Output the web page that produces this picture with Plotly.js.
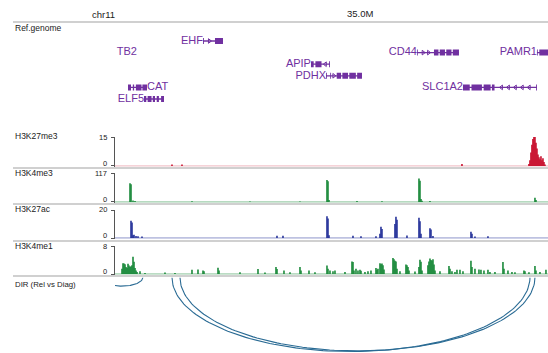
<!DOCTYPE html>
<html><head><meta charset="utf-8">
<script src="https://cdn.plot.ly/plotly-3.0.1.min.js"></script>
<style>html,body{margin:0;padding:0;background:#fff}#chart{width:548px;height:353px}</style>
</head><body><div id="chart"></div>
<script>
// ---------- DATA ----------
const chromName = "chr11";
const regionKb = [34436, 35432];
const tickKb = [35000];
const tickLabels = ["35.0M"];

const geneNames  = ["EHF","TB2","CD44","PAMR1","APIP","PDHX","CAT","SLC1A2","ELF5"];
const geneRow    = [0,1,1,1,2,3,4,4,5];
const geneStart  = [34638.4,34486.6,35130.6,35406.6,34886.8,34921.3,34465.9,35236.4,34502.7];
const geneEnd    = [34684.4,34486.6,35227.2,35440,34930.5,35004.1,34509.6,35406.6,34548.7];
const geneStrand = ["+","+","+","-","-","+","+","-","-"];
const geneExons  = [
  [[34638.4,34640.5],[34666,34684.4]],
  [],
  [[35130.6,35132.5],[35169.7,35180],[35183,35195],[35198,35210],[35213,35227.2]],
  [[35406.6,35408.5],[35412,35440]],
  [[34886.8,34893],[34897,34911],[34928.5,34930.5]],
  [[34921.3,34923.3],[34931,34933],[34946,34956],[34959,34972],[34975,34990],[34993,35004.1]],
  [[34465.9,34472.8],[34477,34480],[34484,34497],[34499,34509.6]],
  [[35236.4,35252],[35256,35280],[35284,35300],[35303,35309],[35404.6,35406.6]],
  [[34502.7,34508],[34511,34520],[34523,34528],[34532,34537],[34542,34548.7]]
];

const trackNames = ["H3K27me3","H3K4me3","H3K27ac","H3K4me1"];
const trackMax   = [15,117,20,8];

const k27me3Pos = [34567.1,34590.1,35234.1,35388.2,35390.5,35392.8,35395.1,35397.4,35399.7,35402,35404.3,35406.6,35408.9,35411.2,35413.5,35415.8,35418.1,35420.4,35422.7,35425];
const k27me3Val = [0.8,0.7,1.0,1,3,7,11,14,15,15,12,9,6,4.5,3.5,5,3,4,2,0.8];

const k4me3Pos = [34470.5,34472.8,34477.4,34482,34613.1,34746.5,34861.5,34923.6,34925.9,34928.2,34992.6,35050.1,35135.2,35137.5,35139.8,35142.1,35160.5,35402,35404.3];
const k4me3Val = [76,72,6,4,2.5,1.5,1.5,89,84,8,4,3,95,86,12,5,4,17,8];

const k27acPos = [34472.8,34475.1,34477.4,34479.7,34484.3,34488.9,34498.1,34808.6,34822.4,34923.6,34925.9,34928.2,34983.4,35001.8,35036.3,35045.5,35047.8,35050.1,35080,35082.3,35084.6,35107.6,35135.2,35137.5,35139.8,35160.5,35162.8,35167.4,35254.8,35257.1,35264,35293.9];
const k27acVal = [12.4,11,2,2.3,1.5,1.2,1,1.6,1.6,15.5,14,2,1.6,1.3,1.3,3,8,6.5,10,15.2,13,1.8,14.5,12,3,6.9,6,1.5,4.5,3,1,1.2];

const k4me1Pos = [34452.1,34454.4,34456.7,34459,34461.3,34463.6,34465.9,34468.2,34470.5,34472.8,34475.1,34477.4,34479.7,34482,34484.3,34486.6,34493.5,34505,34551,34574,34613.1,34626.9,34638.4,34640.7,34672.9,34675.2,34723.5,34764.9,34781,34806.3,34808.6,34824.7,34838.5,34861.5,34863.8,34882.2,34896,34923.6,34925.9,34930.5,34937.4,34942,34965,34981.1,34983.4,34985.7,34990.3,34994.9,34999.5,35001.8,35011,35017.9,35024.8,35036.3,35038.6,35040.9,35045.5,35047.8,35050.1,35052.4,35054.7,35075.4,35077.7,35080,35082.3,35084.6,35091.5,35105.3,35107.6,35109.9,35112.2,35126,35135.2,35137.5,35139.8,35142.1,35155.9,35158.2,35160.5,35162.8,35165.1,35167.4,35169.7,35172,35183.5,35204.2,35206.5,35211.1,35218,35222.6,35229.5,35236.4,35254.8,35257.1,35264,35273.2,35277.8,35284.7,35293.9,35298.5,35310,35328.4,35330.7,35339.9,35349.1,35356,35376.7,35379,35388.2,35402,35404.3,35413.5,35427.3];
const k4me1Val = [1.5,3.1,3.0,2.8,2.0,1.7,2.9,2.4,2.0,2.2,2.5,4.9,3.5,1.7,1.0,0.6,0.8,0.3,0.4,0.3,1.2,1.3,1.0,0.8,1.8,1.0,0.5,1.4,0.4,2.0,1.4,1.0,0.5,2.0,1.0,1.0,0.5,2.4,1.5,1.0,0.8,1.0,0.6,3.6,3.4,1.0,1.5,1.0,1.2,0.9,0.6,0.8,1.0,1.7,1.2,1.5,3.1,2.8,3.0,2.5,1.3,4.6,4.2,3.8,3.6,1.5,0.8,2.7,2.5,2.0,1.0,0.7,2.0,4.1,3.5,1.0,2.5,3.6,4.4,4.0,3.8,4.2,2.7,1.0,0.8,2.3,1.5,0.8,0.6,1.2,1.2,0.8,3.8,2.0,1.5,1.3,1.2,1.0,1.2,0.6,0.6,3.4,1.5,1.0,0.6,0.5,1.0,0.8,0.5,2.3,1.0,0.6,1.2];

const arcLabel = "DIR (Rel vs Diag)";
const arcStart = [34404, 34567.1, 34585.5];
const arcEnd   = [34500, 35390.5, 35402];

// ---------- STYLE / LAYOUT ----------
const W = 548, H = 353;
const FONT = "Liberation Sans, Arial, Helvetica, sans-serif";
const purple = "#7030a0";
const labelRightOf = {"CAT": true};   // label placed right of the glyph
const trackColors = ["#c8102e","#1b8a3b","#26339a","#1b8a3b"];
const trackPx = [[137,166],[173,202],[210,238],[246,274]]; // top, baseline
const labelPy = [136,173,209,246];
const sepPy = [22,168,204,241,276];
const arcColor = "#2a6b94";
const py = p => 1 - p / H;
const xDom = [115 / W, 1];
const kbPerPx = (regionKb[1] - regionKb[0]) / (W - 115);

const trackPos = [k27me3Pos,k4me3Pos,k27acPos,k4me1Pos];
const trackVal = [k27me3Val,k4me3Val,k27acVal,k4me1Val];

const traces = [];
const layout = {
  width: W, height: H,
  margin: {l:0,r:0,t:0,b:0},
  paper_bgcolor: "#fff", plot_bgcolor: "rgba(0,0,0,0)",
  showlegend: false, barmode: "overlay",
  font: {family: FONT, color: "#222"},
  xaxis: {domain: xDom, range: regionKb, visible: false, fixedrange: true},
  shapes: [], annotations: []
};

// gene axis (y)
const rowTop = 41, rowStep = 11.6;
layout.yaxis = {domain: [py(rowTop + rowStep*6.5), py(rowTop - rowStep)], range: [6.5, -1], visible: false, fixedrange: true};

// tracks
trackNames.forEach((name, i) => {
  const ax = "y" + (i + 2);
  const key = "yaxis" + (i + 2);
  const mx = trackMax[i];
  const lo = -mx * 0.025;
  const [top, base] = trackPx[i];
  layout[key] = {
    domain: [py(base + 0.7), py(top)], range: [lo, mx], anchor: "x",
    showline: true, linecolor: "#555", linewidth: 1,
    ticks: "outside", ticklen: 3, tickwidth: 1, tickcolor: "#555",
    tickvals: [0, mx], showticklabels: false,
    showgrid: false, zeroline: false, fixedrange: true
  };
  traces.push({type: "scatter", mode: "lines", x: regionKb, y: [0, 0], xaxis: "x", yaxis: ax,
    line: {color: trackColors[i], width: 1}, opacity: i === 0 ? 0.35 : 0.6, hoverinfo: "skip"});
  traces.push({type: "bar", x: trackPos[i], y: trackVal[i], xaxis: "x", yaxis: ax,
    width: kbPerPx * 1.6, marker: {color: trackColors[i], line: {width: 0}}, hoverinfo: "skip"});
  layout.annotations.push({xref: "paper", yref: "paper", x: 13 / W, y: py(labelPy[i]), xanchor: "left", yanchor: "middle",
    text: name, showarrow: false, font: {size: 8.5, family: FONT, color: "#222"}});
  // scale labels (max at top, 0 slightly raised above baseline)
  layout.annotations.push({xref: "paper", yref: ax, x: 108.5 / W, y: mx, xanchor: "right", yanchor: "middle",
    text: String(mx), showarrow: false, font: {size: 7.5, family: FONT, color: "#222"}});
  layout.annotations.push({xref: "paper", yref: ax, x: 108.5 / W, y: 0, yshift: 2.5, xanchor: "right", yanchor: "middle",
    text: "0", showarrow: false, font: {size: 7.5, family: FONT, color: "#222"}});
});

// genes
const intronX = [], intronY = [], exonX = [], exonY = [], chevR = [[],[]], chevL = [[],[]];
const lblL = {x: [], y: [], t: []}, lblR = {x: [], y: [], t: []};
geneNames.forEach((g, i) => {
  const r = geneRow[i];
  if (geneEnd[i] > geneStart[i]) {
    intronX.push(geneStart[i], geneEnd[i], null); intronY.push(r, r, null);
  }
  const ex = geneExons[i];
  ex.forEach(e => { exonX.push(e[0], e[1], null); exonY.push(r, r, null); });
  for (let k = 0; k + 1 < ex.length; k++) {
    const a = ex[k][1], b = ex[k + 1][0];
    const gapPx = (b - a) / kbPerPx;
    if (gapPx < 4) continue;
    const n = Math.max(1, Math.floor(gapPx / 7));
    for (let j = 1; j <= n; j++) {
      const xx = a + (b - a) * j / (n + 1);
      const tgt = geneStrand[i] === "+" ? chevR : chevL;
      tgt[0].push(xx); tgt[1].push(r);
    }
  }
  if (labelRightOf[g]) { lblR.x.push(geneEnd[i]); lblR.y.push(r); lblR.t.push(g); }
  else { lblL.x.push(geneStart[i]); lblL.y.push(r); lblL.t.push(g); }
});
traces.push({type: "scatter", mode: "lines", x: intronX, y: intronY, xaxis: "x", yaxis: "y",
  line: {color: purple, width: 1.3}, hoverinfo: "skip"});
traces.push({type: "scatter", mode: "lines", x: exonX, y: exonY, xaxis: "x", yaxis: "y",
  line: {color: purple, width: 6}, hoverinfo: "skip"});
traces.push({type: "scatter", mode: "markers", x: chevR[0], y: chevR[1], xaxis: "x", yaxis: "y",
  marker: {symbol: "triangle-right-open", size: 4, color: purple, line: {color: purple, width: 1}}, hoverinfo: "skip"});
traces.push({type: "scatter", mode: "markers", x: chevL[0], y: chevL[1], xaxis: "x", yaxis: "y",
  marker: {symbol: "triangle-left-open", size: 4, color: purple, line: {color: purple, width: 1}}, hoverinfo: "skip"});
traces.push({type: "scatter", mode: "text", x: lblL.x, y: lblL.y, text: lblL.t, xaxis: "x", yaxis: "y",
  textposition: "middle left", cliponaxis: false, textfont: {size: 11, family: FONT, color: purple}, hoverinfo: "skip"});
traces.push({type: "scatter", mode: "text", x: lblR.x, y: lblR.y, text: lblR.t, xaxis: "x", yaxis: "y",
  textposition: "middle right", cliponaxis: false, textfont: {size: 11, family: FONT, color: purple}, hoverinfo: "skip"});

// arcs
const spans = arcStart.map((s, i) => arcEnd[i] - s);
const maxSpan = Math.max(...spans);
layout.yaxis6 = {domain: [0, py(277.5)], range: [-75.5 / 74, 0], visible: false, fixedrange: true, anchor: "x"};
arcStart.forEach((s, i) => {
  const c = (s + arcEnd[i]) / 2, a = spans[i] / 2, d = spans[i] / maxSpan;
  const xs = [], ys = [];
  for (let k = 0; k <= 120; k++) {
    const t = Math.PI * k / 120;
    xs.push(c - a * Math.cos(t)); ys.push(-d * Math.sin(t));
  }
  traces.push({type: "scatter", mode: "lines", x: xs, y: ys, xaxis: "x", yaxis: "y6",
    line: {color: arcColor, width: 1.1}, hoverinfo: "skip"});
});

// header & labels
layout.annotations.push({xref: "paper", yref: "paper", x: 103 / W, y: py(14), xanchor: "center", yanchor: "middle",
  text: chromName, showarrow: false, font: {size: 9.5, family: FONT, color: "#222"}});
tickKb.forEach((t, i) => layout.annotations.push({xref: "x", yref: "paper", x: t, y: py(13.5), xanchor: "center", yanchor: "middle",
  text: tickLabels[i], showarrow: false, font: {size: 9.5, family: FONT, color: "#222"}}));
layout.annotations.push({xref: "paper", yref: "paper", x: 13 / W, y: py(28), xanchor: "left", yanchor: "middle",
  text: "Ref.genome", showarrow: false, font: {size: 8.5, family: FONT, color: "#222"}});
layout.annotations.push({xref: "paper", yref: "paper", x: 13 / W, y: py(284), xanchor: "left", yanchor: "middle",
  text: arcLabel, showarrow: false, font: {size: 7.8, family: FONT, color: "#222"}});

sepPy.forEach(p => layout.shapes.push({type: "line", xref: "paper", yref: "paper", x0: 13 / W, x1: 1, y0: py(p), y1: py(p),
  line: {color: "#d0d0d0", width: 1.8}, layer: "below"}));

Plotly.newPlot("chart", traces, layout, {staticPlot: true, displayModeBar: false});
</script>
</body></html>
